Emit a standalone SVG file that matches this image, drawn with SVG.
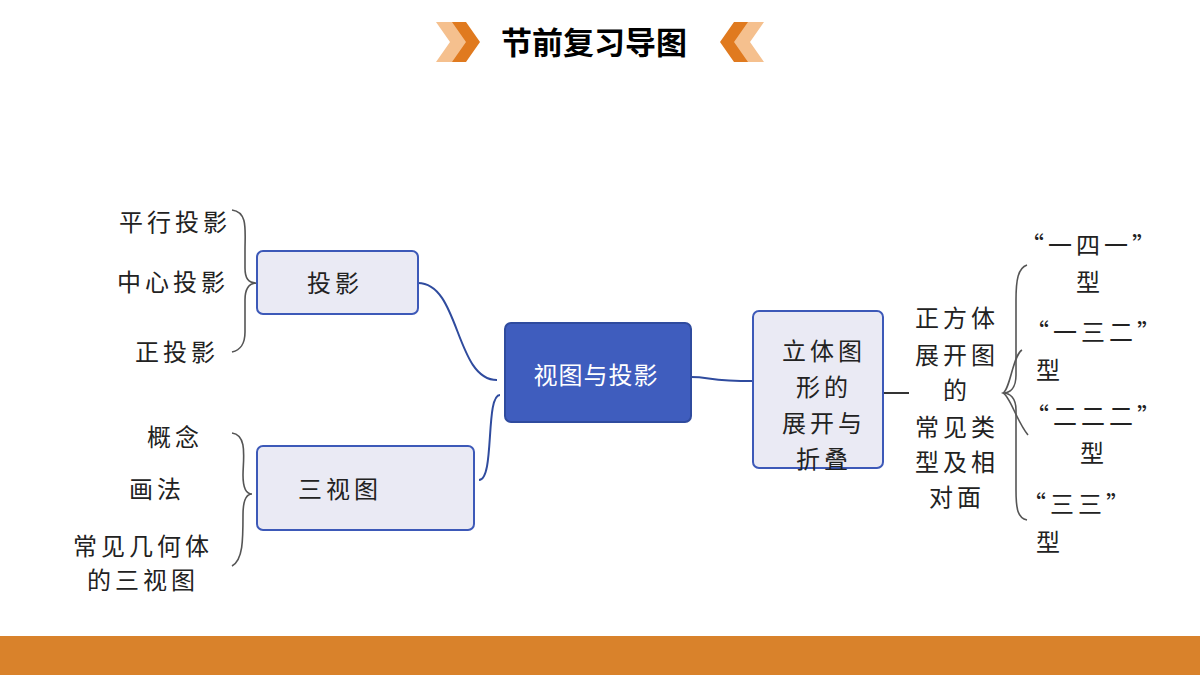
<svg xmlns="http://www.w3.org/2000/svg" width="1200" height="675" viewBox="0 0 1200 675">
<style>
text{font-family:"Noto Sans CJK SC","Noto Sans CJK JP",sans-serif;fill:#222;text-anchor:middle}
.t{font-size:24px;letter-spacing:4px}
.box{fill:#EAEAF4;stroke:#3D59B8;stroke-width:2}
.con{fill:none;stroke:#2F4B9E;stroke-width:2}
.br{fill:none;stroke:#555;stroke-width:1.6}
</style>
<rect width="1200" height="675" fill="#fff"/>
<rect x="0" y="636" width="1200" height="39" fill="#D9822B"/>
<g id="title">
<polygon points="436,22 454,22 468,42 454,62 436,62 450,42" fill="#F5C08E"/>
<polygon points="452,22 466,22 480,42 466,62 452,62 466,42" fill="#E07A1F"/>
<polygon points="764,22 746,22 732,42 746,62 764,62 750,42" fill="#F5C08E"/>
<polygon points="748,22 734,22 720,42 734,62 748,62 734,42" fill="#E07A1F"/>
<text x="594" y="54" style="font-size:31px;font-weight:bold;fill:#000">节前复习导图</text>
</g>
<g id="connectors">
<path class="con" d="M418,283 C460,283 455,380 497,380"/>
<path class="con" d="M479,480 C495,480 485,395 500,395"/>
<path class="con" d="M691,377 C710,377 710,381 753,381"/>
<line x1="877" y1="393" x2="909" y2="393" stroke="#000" stroke-width="1.6"/>
<path class="br" d="M232,210 C248,212 245,230 245,250 L245,268 C245,278 248,283 257,283 C248,283 245,290 245,300 L245,332 C245,345 240,350 232,352"/>
<path class="br" d="M232,433 C248,435 243,460 243,475 C243,488 246,494 252,494 C246,494 243,500 243,515 C243,540 243,560 232,566"/>
<path class="br" d="M1027,265 C1018,268 1016,280 1016,300 L1016,375 C1016,388 1010,393 1003,393 C1010,393 1016,398 1016,410 L1016,490 C1016,510 1018,518 1027,520"/>
<path class="br" d="M1022,350 C1013,355 1010,390 1003,393 C1010,396 1016,420 1028,435"/>
</g>
<g id="n-center">
<rect x="505" y="323" width="186" height="99" rx="6" fill="#3F5DBE" stroke="#2F4B9E" stroke-width="2"/>
<text x="596" y="384" style="font-size:24px;fill:#fff;letter-spacing:1px">视图与投影</text>
</g>
<g id="n-touying">
<rect class="box" x="257" y="251" width="161" height="63" rx="6"/>
<text x="335" y="292" class="t">投影</text>
</g>
<g id="n-sanshitu">
<rect class="box" x="257" y="446" width="217" height="84" rx="6"/>
<text x="340" y="498" class="t">三视图</text>
</g>
<g id="n-zhankai">
<rect class="box" x="753" y="311" width="130" height="157" rx="6"/>
<text x="824" y="360" class="t">立体图</text>
<text x="824" y="396" class="t">形的</text>
<text x="824" y="432" class="t">展开与</text>
<text x="824" y="468" class="t">折叠</text>
</g>
<g id="n-left1">
<text x="175" y="231" class="t">平行投影</text>
<text x="173" y="291" class="t">中心投影</text>
<text x="177" y="361" class="t">正投影</text>
</g>
<g id="n-left2">
<text x="175" y="446" class="t">概念</text>
<text x="157" y="498" class="t">画法</text>
<text x="143" y="555" class="t">常见几何体</text>
<text x="143" y="589" class="t">的三视图</text>
</g>
<g id="n-zhengfang">
<text x="957" y="327" class="t">正方体</text>
<text x="957" y="364" class="t">展开图</text>
<text x="957" y="399" class="t">的</text>
<text x="957" y="436" class="t">常见类</text>
<text x="957" y="471" class="t">型及相</text>
<text x="957" y="506" class="t">对面</text>
</g>
<g id="n-types">
<text x="1090" y="254" class="t">“一四一”</text>
<text x="1090" y="291" class="t">型</text>
<text x="1095" y="341" class="t">“一三二”</text>
<text x="1050" y="379" class="t">型</text>
<text x="1095" y="425" class="t">“二二二”</text>
<text x="1094" y="462" class="t">型</text>
<text x="1078" y="513" class="t">“三三”</text>
<text x="1050" y="551" class="t">型</text>
</g>
</svg>
